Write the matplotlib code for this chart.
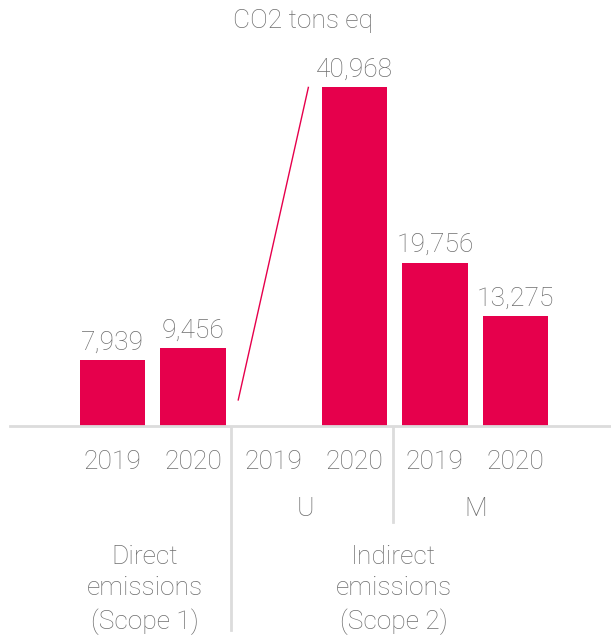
import matplotlib.pyplot as plt
from matplotlib.transforms import blended_transform_factory

# ============================
# Datos
# ============================
years = ["2019", "2020", "2019", "2020", "2019", "2020"]
emissions = [7939, 9456, 0, 40968, 19756, 13275]
value_labels = ["7,939", "9,456", "", "40,968", "19,756", "13,275"]
subgroups = ["U", "M"]
groups = ["Direct\nemissions\n(Scope 1)", "Indirect\nemissions\n(Scope 2)"]
title = "CO2 tons eq"

bar_color = "#e6004c"
text_color = "#6e6e6e"
grid_color = "#dcdcdc"

plt.rcParams["font.family"] = ["Roboto", "DejaVu Sans"]
FS = 19

fig = plt.figure(figsize=(6.11, 6.43), dpi=100)
# eje con la línea base a 426 px desde arriba
ax = fig.add_axes([0, (643 - 426) / 643, 1, 426 / 643])
ax.set_xlim(-1.396, 6.185)
ax.set_ylim(0, 426 * 121)
ax.axis("off")

x = list(range(len(emissions)))
bars = ax.bar(x, emissions, width=0.81, color=bar_color)

# etiquetas de valor encima de cada barra
for bar, lab in zip(bars, value_labels):
    if lab:
        ax.annotate(lab, (bar.get_x() + bar.get_width() / 2, bar.get_height()),
                    xytext=(0, 4), textcoords="offset points",
                    ha="center", va="bottom", fontsize=FS, color=text_color,
                    fontweight="light")

# línea diagonal hacia la barra de U 2020
ymax = emissions[3]
ax.plot([x[2] - 0.44, x[2] + 0.43], [0.077 * ymax, ymax],
        color=bar_color, lw=1)

# línea base
ax.plot([-1.27, 6.185], [0, 0], color=grid_color, lw=2, clip_on=False)

# texto debajo del eje (coordenadas x en datos, y en figura)
tr = blended_transform_factory(ax.transData, fig.transFigure)
fy = lambda px: 1 - px / 643

for xi, yr in zip(x, years):
    fig.text(xi, fy(462), yr, transform=tr, ha="center", va="center",
             fontsize=FS, color=text_color, fontweight="light")

fig.text(2.39, fy(509), subgroups[0], transform=tr, ha="center", va="center",
         fontsize=FS, color=text_color, fontweight="light")
fig.text(4.51, fy(509), subgroups[1], transform=tr, ha="center", va="center",
         fontsize=FS, color=text_color, fontweight="light")

fig.text(0.40, fy(590), groups[0], transform=tr, ha="center", va="center",
         fontsize=FS, color=text_color, fontweight="light", linespacing=1.38)
fig.text(3.49, fy(590), groups[1], transform=tr, ha="center", va="center",
         fontsize=FS, color=text_color, fontweight="light", linespacing=1.38)

# separadores verticales
fig.add_artist(plt.Line2D([1.47, 1.47], [fy(428), fy(630)], transform=tr,
                          color=grid_color, lw=2))
fig.add_artist(plt.Line2D([3.48, 3.48], [fy(428), fy(522)], transform=tr,
                          color=grid_color, lw=2))

# título
fig.text(2.36, fy(21), title, transform=tr, ha="center", va="center",
         fontsize=FS, color=text_color, fontweight="light")

fig.savefig("out.png", dpi=100)
